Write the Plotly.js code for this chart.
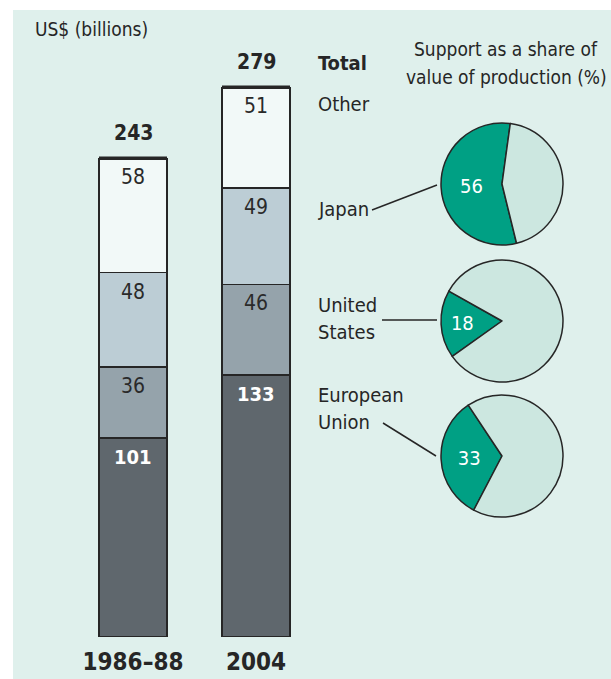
<!DOCTYPE html>
<html>
<head>
<meta charset="utf-8">
<script src="https://cdn.plot.ly/plotly-3.0.1.min.js"></script>
<style>html,body{margin:0;padding:0;background:#fff;}#chart{width:611px;height:679px;}</style>
</head>
<body>
<div id="chart"></div>
<script>
// ---- data ----
const periods = ['1986–88', '2004'];
const seriesNames = ['European Union', 'United States', 'Japan', 'Other'];
const euValues = [101, 133];
const usValues = [36, 46];
const japanValues = [48, 49];
const otherValues = [58, 51];
const pieCountries = ['Japan', 'United States', 'European Union'];
const supportShare = [56, 18, 33];

// ---- styles ----
const W = 611, H = 679;
const FONT = '"Liberation Sans Narrow", "Arial Narrow", "DejaVu Sans Condensed", sans-serif';
const BG = '#dff0ec';
const DARK = '#262626';
const barColors = ['#5f676d', '#95a3ab', '#bccdd5', '#f2f9f8'];
const labelColors = ['#ffffff', '#2a2a2a', '#2a2a2a', '#2a2a2a'];
const labelWeights = ['bold', 'normal', 'normal', 'normal'];
const GREEN = '#00a084', PIE_LIGHT = '#cce7e0';
const px = x => x / W;
const py = y => 1 - y / H;

const seriesValues = [euValues, usValues, japanValues, otherValues];
const barWidth = 0.553;

const traces = seriesValues.map((vals, i) => ({
  type: 'bar', x: periods, y: vals, name: seriesNames[i],
  width: barWidth,
  marker: {color: barColors[i], line: {color: DARK, width: 1.5}},
  hoverinfo: 'x+y+name', textposition: 'none',
  xaxis: 'x', yaxis: 'y'
}));

const annotations = [];
const shapes = [];
// panel background
shapes.push({type: 'rect', xref: 'paper', yref: 'paper', x0: px(13), x1: 1, y0: 0, y1: py(10),
  fillcolor: BG, line: {width: 0}, layer: 'below'});

// segment labels (x given as category index)
periods.forEach((p, j) => {
  let cum = 0;
  seriesValues.forEach((vals, i) => {
    cum += vals[j];
    annotations.push({x: j, y: cum, xref: 'x', yref: 'y', text: String(vals[j]),
      showarrow: false, yanchor: 'middle', yshift: -19,
      font: {family: FONT, size: i === 0 ? 20 : 21, color: labelColors[i], weight: labelWeights[i]}});
  });
  // total label and thick top edge
  annotations.push({x: j, y: cum, xref: 'x', yref: 'y', text: String(cum),
    showarrow: false, yanchor: 'middle', yshift: 25,
    font: {family: FONT, size: 21, color: DARK, weight: 'bold'}});
  shapes.push({type: 'line', xref: 'x', yref: 'y', x0: j - barWidth / 2, x1: j + barWidth / 2,
    y0: cum, y1: cum, line: {color: DARK, width: 3.5}});
});

// pies: first slice spans [rotation, rotation + share*3.6] clockwise from 12 o'clock
const pieDomains = [[123, 245], [260, 382], [395, 517]];
const pieCenterAngle = 267;
pieCountries.forEach((c, k) => {
  const share = supportShare[k];
  let rot = pieCenterAngle - share * 1.8;
  rot = ((rot + 540) % 360) - 180;
  traces.push({
    type: 'pie', values: [share, 100 - share], labels: [c + ' support', c + ' other'],
    sort: false, direction: 'counterclockwise', rotation: rot,
    marker: {colors: [GREEN, PIE_LIGHT], line: {color: DARK, width: 1.5}},
    text: [String(share), ''], textinfo: 'text', textposition: 'inside',
    insidetextorientation: 'horizontal',
    textfont: {family: FONT, size: 20, color: '#ffffff'},
    showlegend: false, hoverinfo: 'label+value',
    domain: {x: [px(441), px(563)], y: [py(pieDomains[k][1]), py(pieDomains[k][0])]}
  });
});

// text labels
function label(text, x, y, opts = {}) {
  annotations.push(Object.assign({text, x: px(x), y: py(y), xref: 'paper', yref: 'paper',
    showarrow: false, xanchor: 'left', yanchor: 'middle',
    font: {family: FONT, size: 20, color: DARK}}, opts));
}
label('US$ (billions)', 33, 29, {font: {family: FONT, size: 19, color: DARK}});
label('Support as a share of', 506, 49, {xanchor: 'center', font: {family: FONT, size: 19, color: DARK}});
label('value of production (%)', 506, 77, {xanchor: 'center', font: {family: FONT, size: 19, color: DARK}});
label('Total', 316, 63, {font: {family: FONT, size: 20, color: DARK, weight: 'bold'}});
label('Other', 316, 104);
label('Japan', 316, 209);
label('United', 316, 305);
label('States', 316, 332);
label('European', 316, 395);
label('Union', 316, 422);

// leader lines
[[372, 210, 437, 185], [382, 320, 437, 320], [383, 423, 436, 456]].forEach(l => {
  shapes.push({type: 'line', xref: 'paper', yref: 'paper', x0: px(l[0]), y0: py(l[1]),
    x1: px(l[2]), y1: py(l[3]), line: {color: DARK, width: 1.5}});
});

const yScale = 1.97;
const layout = {
  width: W, height: H, margin: {l: 0, r: 0, t: 0, b: 0},
  paper_bgcolor: '#ffffff', plot_bgcolor: 'rgba(0,0,0,0)',
  barmode: 'stack', bargap: 0, showlegend: false,
  xaxis: {domain: [px(60), px(330)], range: [(60 - 133) / 123, (330 - 133) / 123],
    type: 'category', showgrid: false, zeroline: false, showline: false, ticks: '',
    tickfont: {family: FONT, size: 24, color: DARK, weight: 'bold'}, ticklabelstandoff: 8,
    fixedrange: true},
  yaxis: {domain: [py(637), py(637 - 300 * yScale)], range: [0, 300],
    visible: false, showgrid: false, zeroline: false, fixedrange: true},
  annotations, shapes,
  font: {family: FONT}
};

Plotly.newPlot('chart', traces, layout, {displayModeBar: false, staticPlot: true});
</script>
</body>
</html>
